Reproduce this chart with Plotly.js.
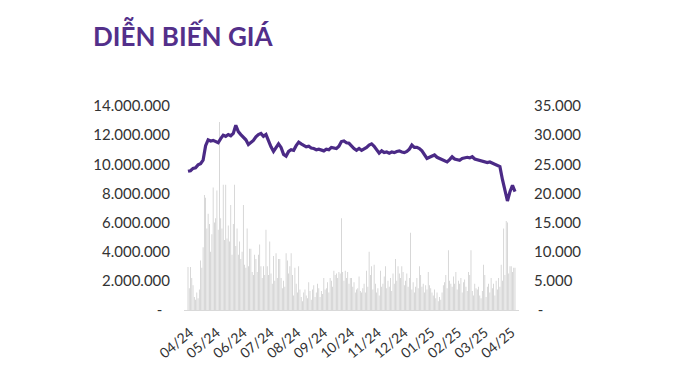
<!DOCTYPE html>
<html><head><meta charset="utf-8">
<script src="https://cdn.plot.ly/plotly-3.0.1.min.js"></script>
<style>html,body{margin:0;padding:0;background:#fff}#chart{width:690px;height:368px}</style>
</head><body><div id="chart"></div>
<script>
// Month tick labels and their positions (trading-day index)
const monthLabels = ["04/24","05/24","06/24","07/24","08/24","09/24","10/24","11/24","12/24","01/25","02/25","03/25","04/25"];
const monthTickPos = [1.6, 22.9, 44.2, 65.5, 86.8, 108.2, 129.5, 150.8, 172.1, 193.4, 214.7, 236.0, 257.3];

// Daily trading volume (millions of shares)
const volumeMillions = [
  2.95,1.5,2.95,2.2,1.7,0.9,0.7,1.2,0.8,1.4,
  3.4,2.9,4.3,7.9,7.7,5.6,6.6,5.9,4.0,5.2,
  8.4,6.0,6.3,8.2,5.5,12.9,6.3,5.6,8.6,4.8,
  8.6,4.9,5.8,4.7,7.2,3.8,5.9,8.6,4.4,5.6,
  3.8,4.7,3.5,4.0,7.2,3.1,2.9,5.6,3.0,4.2,
  4.2,2.6,2.4,3.8,3.5,2.6,3.8,4.5,3.0,2.2,
  3.0,2.4,5.5,3.0,2.4,4.7,2.5,1.8,3.7,2.0,
  3.9,2.2,3.5,3.5,2.2,1.5,2.0,1.6,3.9,3.4,
  2.5,3.0,3.9,2.4,1.0,2.9,1.8,1.2,3.0,1.4,
  0.9,0.6,1.2,1.4,1.0,0.8,1.9,1.3,0.7,1.4,
  1.7,0.9,1.2,1.8,1.5,0.9,1.3,1.1,2.2,1.4,
  1.5,1.9,1.2,2.2,2.0,1.6,2.7,2.4,2.5,2.2,
  2.6,2.5,6.3,2.6,2.0,2.7,2.2,2.6,1.8,2.2,
  2.2,1.6,1.9,1.2,1.4,1.5,2.3,1.3,1.2,1.5,
  1.8,1.2,2.7,1.6,4.0,2.4,3.0,1.4,3.1,1.8,
  1.2,1.5,1.0,2.7,1.6,1.8,2.3,3.0,1.5,2.0,
  1.6,2.2,1.3,2.5,1.8,3.5,2.0,3.0,2.5,2.2,
  3.0,2.6,1.7,2.0,2.5,1.6,2.2,5.3,1.4,1.9,
  1.2,1.6,2.2,1.5,3.0,2.4,1.6,1.8,1.2,1.7,
  1.4,2.6,1.7,1.5,1.2,1.0,1.4,0.8,1.2,0.6,
  0.9,0.7,1.2,1.7,1.9,2.4,1.5,4.1,2.0,1.8,
  1.6,2.3,1.8,2.6,1.4,2.0,1.8,2.2,1.2,1.9,
  2.1,1.6,1.3,2.6,2.4,4.1,1.3,1.0,1.8,1.5,
  1.4,1.6,1.0,0.8,1.3,3.1,2.4,0.9,1.6,1.8,
  1.2,2.2,1.5,1.8,1.0,2.0,1.4,2.2,1.6,3.1,
  2.0,5.6,2.4,6.1,6.0,2.5,3.0,3.0,2.6,2.9,
  2.9
];

// Closing price (VND), one reading every second trading day
const price = [
  23800,23900,24300,24400,24900,25100,25700,28200,29200,29000,
  29100,28900,28700,29400,30000,29800,30100,29900,30300,31700,
  30600,30100,29700,29200,28400,28800,29100,29700,30100,30300,
  29800,30100,29000,28000,27200,27900,28500,27900,26700,26400,
  27200,27500,27400,28200,28800,28500,28200,28000,28100,27800,
  27700,27500,27600,27400,27300,27600,27500,27900,27800,27700,
  28100,28900,29000,28700,28600,28100,27700,27400,27700,27400,
  27600,27900,28300,28500,28100,27600,26900,27300,27000,27100,
  26900,27100,27000,27200,27300,27100,27000,27200,27600,28300,
  27900,27900,27700,27300,26600,26000,26200,26400,26600,26200,
  26000,25800,25600,25400,25800,26300,25900,25800,25700,26000,
  26100,26200,26100,26300,25900,25800,25700,25600,25500,25300,
  25400,25200,25000,24900,24600,22400,20800,18700,20300,21400,
  20300
];

const leftTickVals = [0,2000000,4000000,6000000,8000000,10000000,12000000,14000000];
const leftTickText = ["-\u00a0\u00a0","2.000.000","4.000.000","6.000.000","8.000.000","10.000.000","12.000.000","14.000.000"];
const rightTickVals = [0,5000,10000,15000,20000,25000,30000,35000];
const rightTickText = ["\u00a0-","5.000","10.000","15.000","20.000","25.000","30.000","35.000"];

const volX = volumeMillions.map((_, i) => i);
const volY = volumeMillions.map(v => v * 1e6);
const priceX = price.map((_, k) => 2 * k);

const tickFont = {family: "Lato, 'Open Sans', sans-serif", size: 15, color: "#333333"};

const traces = [
  {type: "bar", x: volX, y: volY, marker: {color: "#cbcbcb", line: {width: 0}}, yaxis: "y", hoverinfo: "skip"},
  {type: "scatter", mode: "lines", x: priceX, y: price, yaxis: "y2",
   line: {color: "#4b2a86", width: 3.2}, hoverinfo: "skip"}
];

const layout = {
  width: 690, height: 368,
  margin: {l: 184, r: 171, t: 106, b: 58},
  paper_bgcolor: "#ffffff", plot_bgcolor: "#ffffff",
  showlegend: false,
  bargap: 0.4,
  title: {
    text: "<b>DIỄN BIẾN GIÁ</b>",
    font: {family: "Lato, 'Open Sans', sans-serif", size: 26, color: "#532f8a"},
    xref: "container", yref: "container", x: 93/690, xanchor: "left", y: 1 - 37/368, yanchor: "middle"
  },
  xaxis: {
    range: [-3.18, 263.18], tickmode: "array", tickvals: monthTickPos, ticktext: monthLabels,
    tickangle: -40, showgrid: false, zeroline: false, showline: true, linecolor: "#d9d9d9", linewidth: 1,
    ticks: "", tickfont: {family: "Lato, 'Open Sans', sans-serif", size: 14, color: "#333333"}, ticklabelstandoff: 8
  },
  yaxis: {
    range: [0, 14000000], tickmode: "array", tickvals: leftTickVals, ticktext: leftTickText,
    showgrid: false, zeroline: false, showline: false, ticks: "", tickfont: tickFont, ticklabelstandoff: 13
  },
  yaxis2: {
    range: [0, 35000], overlaying: "y", side: "right", tickmode: "array", tickvals: rightTickVals, ticktext: rightTickText,
    showgrid: false, zeroline: false, showline: false, ticks: "", tickfont: tickFont, ticklabelstandoff: 14
  }
};

Plotly.newPlot("chart", traces, layout, {staticPlot: true, displayModeBar: false});
</script>
</body></html>
